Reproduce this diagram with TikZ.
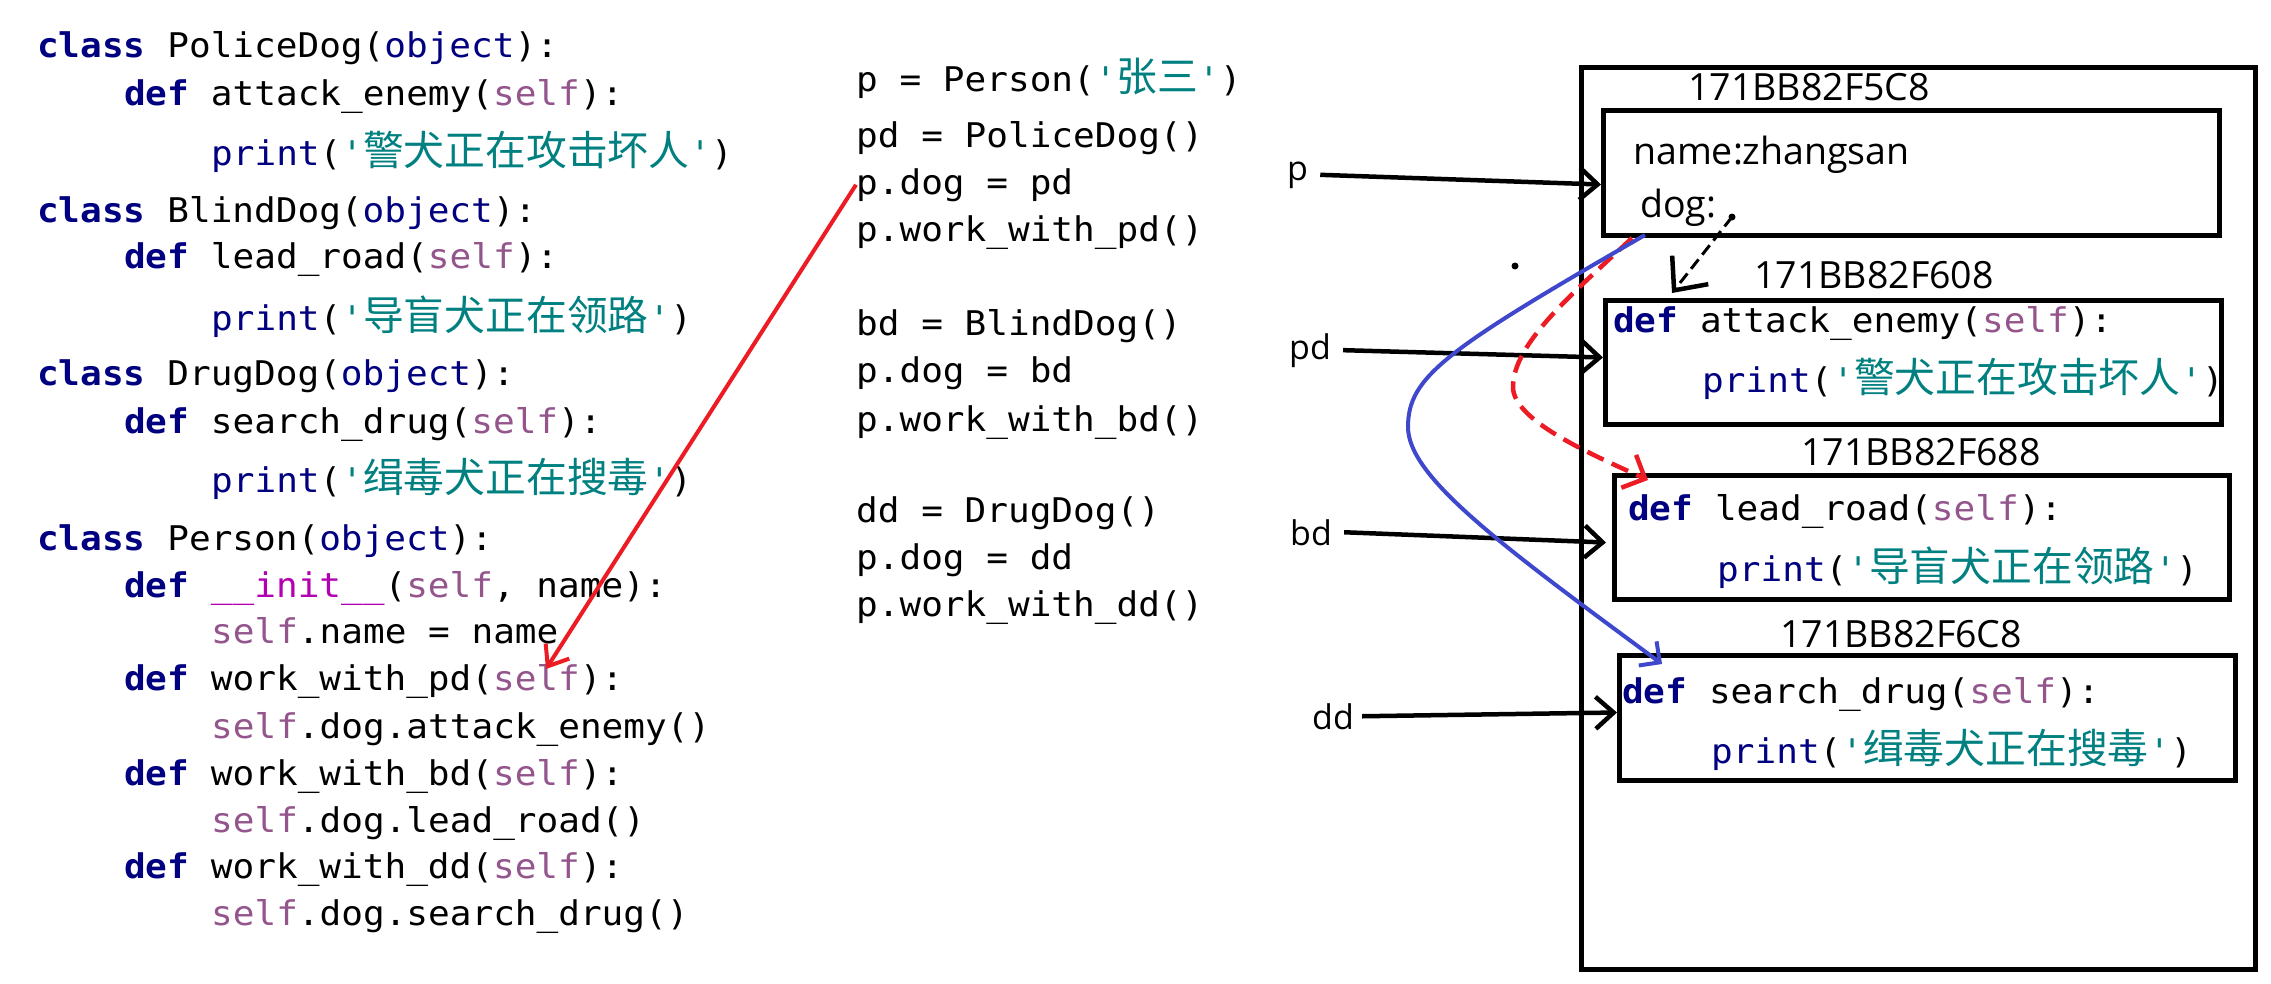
\documentclass[tikz,border=0pt]{standalone}
\usepackage{fontspec}
\usetikzlibrary{arrows.meta}
\newfontfamily\codefont[FakeStretch=1.06,Ligatures=TeXOff]{DejaVu Sans Mono}
\newfontfamily\cjkfont[Scale=1.2,Ligatures=TeXOff]{Noto Sans CJK SC}
\newfontfamily\labfont{Open Sans}
\definecolor{kwc}{HTML}{000080}
\definecolor{slfc}{HTML}{94558D}
\definecolor{strc}{HTML}{008080}
\definecolor{magc}{HTML}{B200B2}
\definecolor{redc}{HTML}{ED1C24}
\definecolor{bluec}{HTML}{3F48CC}
\newcommand\Kw[1]{{\bfseries\color{kwc}#1}}
\newcommand\Nv[1]{{\color{kwc}#1}}
\newcommand\Slf[1]{{\color{slfc}#1}}
\newcommand\Str[1]{{\color{strc}#1}}
\newcommand\Mg[1]{{\color{magc}#1}}
\newcommand\Zh[1]{{\cjkfont #1}}
\newcommand\Q{\Str{'}}
\begin{document}
\begin{tikzpicture}[x=1pt,y=-1pt,
  code/.style={anchor=base west, inner sep=0pt, font=\codefont\fontsize{34}{40}\selectfont},
  lab/.style={anchor=base west, inner sep=0pt, font=\labfont\fontsize{34}{40}\selectfont},
  addr/.style={anchor=base west, inner sep=0pt, font=\labfont\fontsize{37.5}{44}\selectfont},
  box/.style={draw, line width=5pt, anchor=north west, inner sep=0pt},
  ptr/.style={line width=4.5pt, -{Straight Barb[length=18pt,width=32pt]}},
  redline/.style={draw=redc, line width=4pt, -{Straight Barb[length=18pt,width=28pt]}},
  reddash/.style={draw=redc, line width=4.5pt, dash pattern=on 18pt off 9pt, -{Straight Barb[length=18pt,width=36pt]}},
  blueline/.style={draw=bluec, line width=4pt, -{Straight Barb[length=15pt,width=30pt]}},
  blkdash/.style={line width=3pt, dash pattern=on 12pt off 6pt, -{Straight Barb[length=26pt,width=46pt,line width=4.5pt]}}
]
\useasboundingbox (0,0) rectangle (2271,983);
\fill[white] (0,0) rectangle (2271,983);

% ---- left code ----
\node[code] (c1) at (37,57) {\Kw{class} PoliceDog(\Nv{object}):};
\node[code] (c2) at (124,105) {\Kw{def} attack\_enemy(\Slf{self}):};
\node[code] (c3) at (211,165) {\Nv{print}(\Q\Str{\Zh{警犬正在攻击坏人}}\Q)};
\node[code] (c4) at (37,222) {\Kw{class} BlindDog(\Nv{object}):};
\node[code] (c5) at (124,268) {\Kw{def} lead\_road(\Slf{self}):};
\node[code] (c6) at (211,330) {\Nv{print}(\Q\Str{\Zh{导盲犬正在领路}}\Q)};
\node[code] (c7) at (37,385) {\Kw{class} DrugDog(\Nv{object}):};
\node[code] (c8) at (124,433) {\Kw{def} search\_drug(\Slf{self}):};
\node[code] (c9) at (211,492) {\Nv{print}(\Q\Str{\Zh{缉毒犬正在搜毒}}\Q)};
\node[code] (c10) at (37,550) {\Kw{class} Person(\Nv{object}):};
\node[code] (c11) at (124,597) {\Kw{def} \Mg{\_\_init\_\_}(\Slf{self}, name):};
\node[code] (c12) at (211,643) {\Slf{self}.name = name};
\node[code] (c13) at (124,690) {\Kw{def} work\_with\_pd(\Slf{self}):};
\node[code] (c14) at (211,738) {\Slf{self}.dog.attack\_enemy()};
\node[code] (c15) at (124,785) {\Kw{def} work\_with\_bd(\Slf{self}):};
\node[code] (c16) at (211,832) {\Slf{self}.dog.lead\_road()};
\node[code] (c17) at (124,878) {\Kw{def} work\_with\_dd(\Slf{self}):};
\node[code] (c18) at (211,925) {\Slf{self}.dog.search\_drug()};

% ---- middle code ----
\node[code] (m1) at (856,91.5) {p = Person(\Q\Str{\Zh{张三}}\Q)};
\node[code] (m2) at (856,147) {pd = PoliceDog()};
\node[code] (m3) at (856,194) {p.dog = pd};
\node[code] (m4) at (856,241) {p.work\_with\_pd()};
\node[code] (m5) at (856,335) {bd = BlindDog()};
\node[code] (m6) at (856,382) {p.dog = bd};
\node[code] (m7) at (856,431) {p.work\_with\_bd()};
\node[code] (m8) at (856,522) {dd = DrugDog()};
\node[code] (m9) at (856,569) {p.dog = dd};
\node[code] (m10) at (856,616) {p.work\_with\_dd()};

% ---- memory ----
\node[box, minimum width=674pt, minimum height=902pt] (outer) at (1579,65) {};
\node[box, minimum width=616pt, minimum height=125pt] (pbox) at (1601,108) {};
\node[box, minimum width=616pt, minimum height=124pt] (abox) at (1603,298) {};
\node[box, minimum width=615pt, minimum height=124pt] (lbox) at (1612,473) {};
\node[box, minimum width=616pt, minimum height=125pt] (sbox) at (1617,653) {};

\node[addr] (a1) at (1688,100) {171BB82F5C8};
\node[addr] (a2) at (1754,288) {171BB82F608};
\node[addr] (a3) at (1801,465) {171BB82F688};
\node[addr] (a4) at (1780,647) {171BB82F6C8};

\node[addr] (nm) at (1633,164) {name:zhangsan};
\node[addr] (dg) at (1640,217) {dog:};

\node[code] (b1) at (1613,332) {\Kw{def} attack\_enemy(\Slf{self}):};
\node[code] (b2) at (1702,392) {\Nv{print}(\Q\Str{\Zh{警犬正在攻击坏人}}\Q)};
\node[code] (b3) at (1628,520) {\Kw{def} lead\_road(\Slf{self}):};
\node[code] (b4) at (1717,581) {\Nv{print}(\Q\Str{\Zh{导盲犬正在领路}}\Q)};
\node[code] (b5) at (1622,703) {\Kw{def} search\_drug(\Slf{self}):};
\node[code] (b6) at (1711,763) {\Nv{print}(\Q\Str{\Zh{缉毒犬正在搜毒}}\Q)};

% ---- variable labels ----
\node[lab] (lp) at (1287,180) {p};
\node[lab] (lpd) at (1289,359) {pd};
\node[lab] (lbd) at (1290,545) {bd};
\node[lab] (ldd) at (1312,729) {dd};

\draw[ptr] ([xshift=12pt]lp.east) -- ([yshift=-11.5pt]pbox.west);
\draw[ptr] ([xshift=12pt]lpd.east) -- ([yshift=5pt]abox.west);
\draw[ptr] ([xshift=12pt]lbd.east) -- ([xshift=-6pt,yshift=-5pt]lbox.west);
\draw[ptr] ([xshift=8pt]ldd.east) -- ([yshift=5.5pt]sbox.west);

% ---- red solid arrow ----
\coordinate (selftop) at (546,669);
\draw[redline] (m3.west) -- (selftop);

% ---- dog pointer arrows ----
\coordinate (dogdot) at (1732,217);
\fill (dogdot) circle (3.5pt);
\coordinate (atip) at (1672,293);
\draw[blkdash] (dogdot) -- (atip);

\coordinate (rtip) at (1648,480);
\draw[reddash] ([xshift=31pt]pbox.south west) .. controls (1577,290) and (1513,342) .. (1513,387)
  .. controls (1513,420) and (1588,453) .. (rtip);

\coordinate (btip) at (1662,664);
\draw[blueline] ([xshift=44pt,yshift=3pt]pbox.south west) .. controls (1445,350) and (1408,377) .. (1408,427)
  .. controls (1408,477) and (1502,546) .. (btip);

% stray dot
\fill (1515,266) circle (3.5pt);
\end{tikzpicture}
\end{document}
